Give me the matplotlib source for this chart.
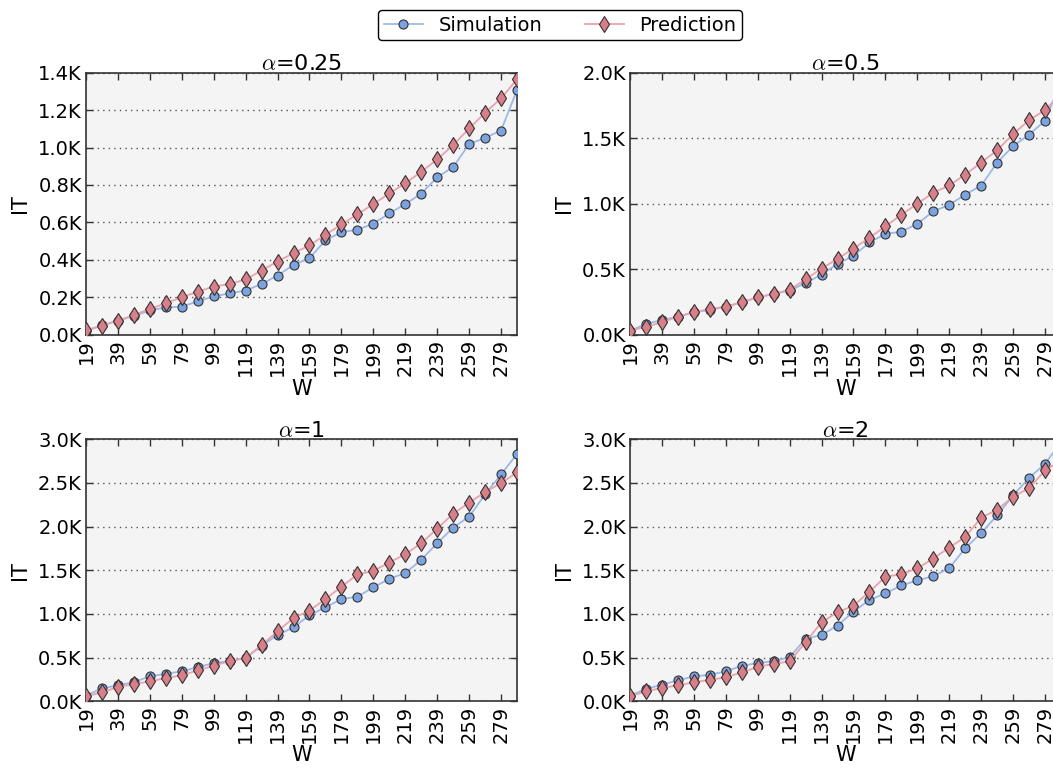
import numpy as np
import matplotlib
matplotlib.use('Agg')
import matplotlib.pyplot as plt
from matplotlib.ticker import FuncFormatter

plt.rcParams['mathtext.fontset'] = 'cm'
plt.rcParams['font.family'] = 'DejaVu Sans'

W = list(range(19, 290, 10))
xtick_labels = list(range(19, 280, 20))
alphas = ['0.25', '0.5', '1', '2']

sim_025 = [20, 50, 75, 100, 130, 146, 150, 178, 205, 221, 236, 271, 316, 373, 409,
           504, 548, 561, 593, 648, 698, 754, 841, 896, 1018, 1052, 1091, 1307]
pred_025 = [25, 48, 75, 105, 138, 168, 200, 230, 257, 271, 295, 343, 391, 436, 477,
            534, 589, 643, 698, 755, 809, 870, 937, 1013, 1102, 1186, 1263, 1364]

sim_05 = [30, 82, 112, 138, 171, 189, 214, 247, 286, 311, 337, 395, 459, 541, 602,
          704, 770, 786, 847, 941, 992, 1069, 1138, 1314, 1439, 1528, 1633, 1930]
pred_05 = [30, 61, 94, 138, 171, 196, 214, 247, 286, 311, 342, 423, 505, 579, 658,
           740, 827, 916, 1000, 1084, 1140, 1222, 1314, 1408, 1531, 1638, 1714, 1840]

sim_1 = [65, 148, 183, 220, 285, 316, 342, 392, 437, 460, 494, 635, 760, 848, 985,
         1076, 1171, 1198, 1304, 1403, 1468, 1620, 1810, 1989, 2114, 2369, 2597, 2833]
pred_1 = [57, 103, 163, 198, 228, 266, 297, 354, 407, 460, 498, 643, 802, 954, 1038,
          1171, 1312, 1452, 1494, 1589, 1684, 1810, 1977, 2148, 2274, 2395, 2498, 2620]

sim_2 = [65, 141, 190, 240, 285, 304, 342, 407, 437, 460, 506, 715, 760, 867, 1027,
         1160, 1236, 1327, 1384, 1433, 1525, 1753, 1928, 2129, 2357, 2559, 2719, 2970]
pred_2 = [57, 114, 152, 183, 217, 247, 274, 331, 392, 430, 456, 677, 905, 1019, 1095,
          1255, 1426, 1456, 1521, 1635, 1760, 1882, 2103, 2194, 2342, 2441, 2643, 2760]

sims = [sim_025, sim_05, sim_1, sim_2]
preds = [pred_025, pred_05, pred_1, pred_2]
ylims = [1400, 2000, 3000, 3000]
ysteps = [200, 500, 500, 500]

fig = plt.figure(figsize=(10.53, 7.69), dpi=100)

# axes boxes in figure pixels (left, top), right column runs past the edge
boxes = [(86, 72.7), (630, 72.7), (86, 439.3), (630, 439.3)]
aw, ah = 431, 262

kfmt = FuncFormatter(lambda v, p: '%.1fK' % (v / 1000.0))

handles = None
for i in range(4):
    left, top = boxes[i]
    ax = fig.add_axes([left / 1053, 1 - (top + ah) / 769, aw / 1053, ah / 769])
    ax.set_facecolor('#f4f4f4')
    l1, = ax.plot(W, sims[i], color='#9cb8ea', lw=1.3, marker='o', ms=6.5,
                  mfc='#7ba3e0', mec='#333333', mew=0.8, label='Simulation', zorder=3)
    l2, = ax.plot(W, preds[i], color='#eba3aa', lw=1.3, marker='d', ms=8,
                  mfc='#d97f89', mec='#333333', mew=0.8, label='Prediction', zorder=3)
    handles = [l1, l2]
    ax.set_xlim(19, 289)
    ax.set_ylim(0, ylims[i])
    ax.set_xticks(xtick_labels)
    ax.set_xticklabels([str(v) for v in xtick_labels], rotation=90)
    ax.set_yticks(np.arange(0, ylims[i] + 1, ysteps[i]))
    ax.yaxis.set_major_formatter(kfmt)
    ax.tick_params(direction='in', top=True, right=True, length=5, width=1,
                   labelsize=14, pad=3, color='#333333')
    ax.grid(axis='y', linestyle=(0, (1, 3)), color='#555555', lw=1)
    for s in ax.spines.values():
        s.set_color('#333333')
        s.set_linewidth(1.2)
    ax.set_title(r'$\alpha$=' + alphas[i], fontsize=16, pad=2)
    ax.set_xlabel('W', fontsize=15, labelpad=2)
    ax.set_ylabel('IT', fontsize=15, labelpad=6)

fig.legend(handles, ['Simulation', 'Prediction'], loc='upper center',
           bbox_to_anchor=(0.532, 1.0), ncol=2, fontsize=14, frameon=True,
           fancybox=True, edgecolor='black', framealpha=1, borderpad=0.3,
           columnspacing=2.2, handlelength=2.0)

fig.savefig('out.png', dpi=100)
